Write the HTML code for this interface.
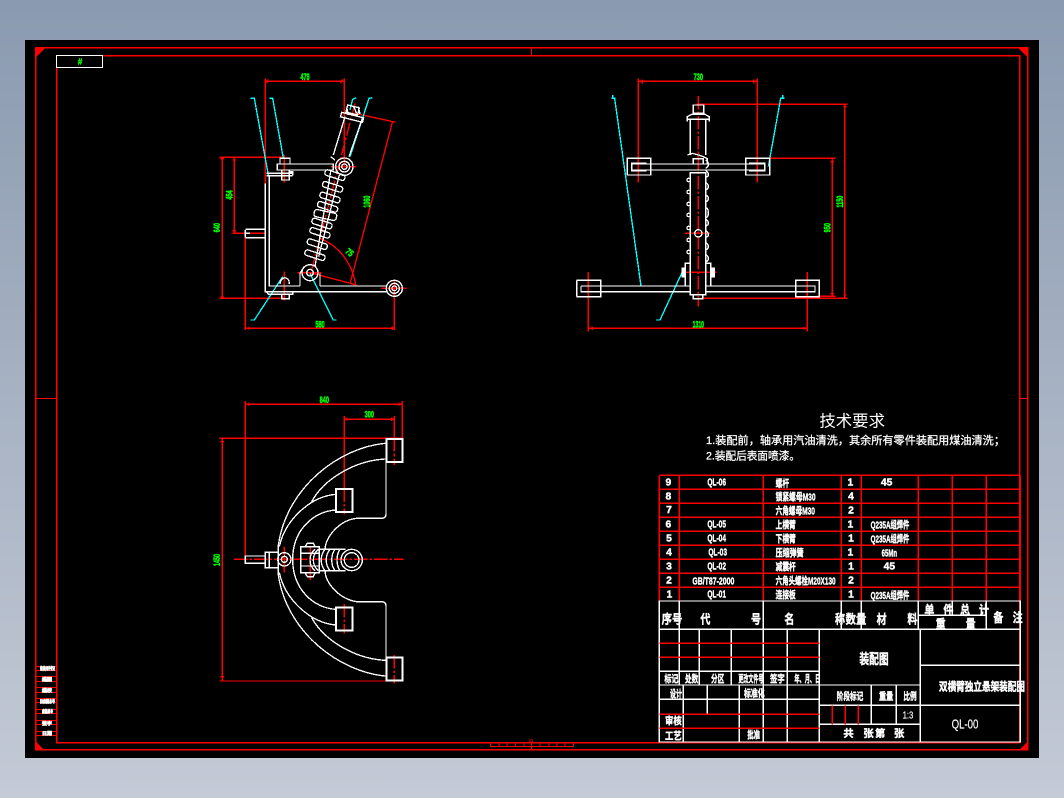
<!DOCTYPE html>
<html><head><meta charset="utf-8"><style>
html,body{margin:0;padding:0;width:1064px;height:798px;overflow:hidden;background:linear-gradient(#8a9ab0,#c4cad6)}
svg{position:absolute;left:0;top:0}
text{font-family:"Liberation Sans","Noto Sans CJK SC",sans-serif}
.r{stroke:#f00;stroke-width:4;fill:none}
.w{stroke:#fff;stroke-width:4;fill:none}
.c{stroke:#0ff;stroke-width:4;fill:none}
.d{stroke:#f00;stroke-width:4;fill:none;stroke-dasharray:40 6 8 6}
.g{fill:#0f0;stroke:#0f0;stroke-width:1.5;font-size:27px;font-weight:bold;text-anchor:middle}
.t{fill:#fff;font-size:31px;font-weight:bold;stroke:#fff;stroke-width:1.2}
.m{text-anchor:middle}
</style></head><body>
<svg width="1064" height="798" viewBox="0 0 1064 798" shape-rendering="crispEdges">
<rect x="25" y="40" width="1014" height="718" fill="#000"/>
<g fill="none" stroke="#f00" stroke-width="1">
<rect x="35.5" y="47.5" width="992" height="702" stroke-width="1.5"/>
<rect x="56.5" y="55.5" width="963" height="687" stroke-width="1.5"/>
<path d="M531.5 48V55M35 398.5H56M1020 398.5H1028M531.5 742V750"/>
<path d="M490.5 742.5V746.5H573.5V742.5M499 743V746M507 743V746M515.5 743V746M524 743V746M540 743V746M549 743V746M557 743V746M565 743V746"/>
<path d="M35 666.5H56M35 670.5H56M35 676.5H56M35 681.5H56M35 687.5H56M35 692.5H56M35 698.5H56M35 702.5H56M35 709.5H56M35 713.5H56M35 720.5H56M35 724.5H56M35 731.5H56M35 735.5H56"/>
</g>
<path d="M35 47H46L35 58ZM1028 48H1018L1028 58ZM35 741V750H44ZM1028 741V750H1019Z" fill="#f00"/>
<rect x="56.5" y="55.5" width="46" height="12" fill="#000" stroke="#fff"/>
<text x="80" y="64.5" font-size="8" font-weight="bold" fill="#0f0" stroke="#0f0" stroke-width=".4" text-anchor="middle">#</text>
<text x="531" y="743" font-size="5" fill="#f00" text-anchor="middle">中</text>
<g fill="#fff" stroke="#fff" stroke-width=".6" font-size="4.5" font-weight="bold">
<text x="40" y="670" textLength="15" lengthAdjust="spacingAndGlyphs">借(通)用件登记</text>
<text x="42" y="681" textLength="10" lengthAdjust="spacingAndGlyphs">描图</text>
<text x="42" y="692" textLength="10" lengthAdjust="spacingAndGlyphs">描校</text>
<text x="40" y="703" textLength="15" lengthAdjust="spacingAndGlyphs">旧底图总号</text>
<text x="42" y="713" textLength="11" lengthAdjust="spacingAndGlyphs">底图总号</text>
<text x="42" y="725" textLength="10" lengthAdjust="spacingAndGlyphs">签字</text>
<text x="42" y="735" textLength="10" lengthAdjust="spacingAndGlyphs">日期</text>
</g>

<!-- LEFT VIEW -->
<g transform="translate(200,60) scale(.33333)">
<path class="r" d="M196 55V370M433 55V320M196 64H433M205 58L200 70M427 58L422 70M58 292H250M58 715H255M67 292V715M62 296H72M62 711H72M103 292V520M98 300H108M98 512H108M97 520H200M136 510V810M583 660V810M136 805H583M147 800V810M577 800V810M253 285V368M253 635V722M393 320H468M292 638H365M545 685H620M465 160L587 187M577 187L450 672M330 638L470 675"/>
<path class="d" d="M465 130L330 650"/>
<path class="d" d="M136 520H200"/>
<path class="r" d="M360 535C410 555 455 600 468 678"/>
<text class="g" x="315" y="60" textLength="28" lengthAdjust="spacingAndGlyphs">479</text>
<text class="g" transform="translate(60,503) rotate(-90)" textLength="28" lengthAdjust="spacingAndGlyphs">640</text>
<text class="g" transform="translate(98,405) rotate(-90)" textLength="28" lengthAdjust="spacingAndGlyphs">454</text>
<text class="g" x="360" y="802" textLength="28" lengthAdjust="spacingAndGlyphs">580</text>
<text class="g" transform="translate(510,425) rotate(-90)" textLength="36" lengthAdjust="spacingAndGlyphs">1060</text>
<text class="g" transform="translate(448,578) rotate(40)" y="8" textLength="22" lengthAdjust="spacingAndGlyphs">75</text>
<path class="c" d="M152 115H163L205 345M208 115H218L250 295M468 113L458 118L450 150M517 113L507 115L450 290M152 780H163L248 650M410 780H400L330 640"/>
<g class="w">
<path d="M196 370V695H560M208 347V678H300M360 678H560M200 340H278M200 347H278M232 312H400V330H232ZM136 508H196M136 533H196M136 520H150M136 510V533M300 678V640L312 620M360 678V640"/>
<path d="M240 295H270V312H240ZM245 330V360H268V330M268 335H278V347M240 672C240 650 268 645 268 672M200 695L205 703H278V695M245 703V716H268V703"/>
<circle cx="583" cy="685" r="7"/><circle cx="583" cy="685" r="15"/><circle cx="583" cy="685" r="24"/>
<circle cx="330" cy="638" r="10"/><circle cx="330" cy="638" r="24"/>
<circle cx="433" cy="320" r="8"/><circle cx="433" cy="320" r="16"/><circle cx="433" cy="320" r="26"/>
<path d="M400 285L435 170M447 290L487 175M392 290L405 300M440 142L445 165M460 138L470 160M475 140L480 162"/>
<rect x="-34" y="-7" width="68" height="14" transform="translate(456,172) rotate(14)"/>
<rect x="-18" y="-11" width="36" height="22" transform="translate(458,150) rotate(14)"/>
<rect x="-31" y="-8" width="62" height="17" rx="7" transform="translate(405,345) rotate(18)"/>
<rect x="-31" y="-8" width="62" height="17" rx="7" transform="translate(398,380) rotate(18)"/>
<rect x="-31" y="-8" width="62" height="17" rx="7" transform="translate(390,412) rotate(18)"/>
<rect x="-31" y="-8" width="62" height="17" rx="7" transform="translate(383,440) rotate(18)"/>
<rect x="-34" y="-11" width="68" height="22" rx="8" transform="translate(376,465) rotate(12)"/>
<rect x="-31" y="-8" width="62" height="17" rx="7" transform="translate(366,490) rotate(18)"/>
<rect x="-31" y="-8" width="62" height="17" rx="7" transform="translate(360,518) rotate(18)"/>
<rect x="-31" y="-8" width="62" height="17" rx="7" transform="translate(352,552) rotate(18)"/>
<rect x="-31" y="-8" width="62" height="17" rx="7" transform="translate(345,585) rotate(18)"/>
<path d="M392 335L345 620M418 345L356 590"/>
</g>
</g>

<!-- RIGHT VIEW -->
<g transform="translate(570,60) scale(.33333)">
<path class="r" d="M205 55V368M562 55V368M205 64H562M217 58V70M551 58V70M380 133H833M395 715H833M824 133V715M820 140H830M820 705H830M585 295H797M740 709H797M787 295V709M782 305H792M782 701H792M55 636V815M712 636V815M55 805H712M67 800V810M702 800V810M345 520H420M333 637H440"/>
<path class="d" d="M385 108V740"/>
<text class="g" x="385" y="60" textLength="28" lengthAdjust="spacingAndGlyphs">730</text>
<text class="g" x="385" y="802" textLength="34" lengthAdjust="spacingAndGlyphs">1310</text>
<text class="g" transform="translate(819,425) rotate(-90)" textLength="36" lengthAdjust="spacingAndGlyphs">1150</text>
<text class="g" transform="translate(782,503) rotate(-90)" textLength="28" lengthAdjust="spacingAndGlyphs">950</text>
<path class="c" d="M124 115H134L213 678M128 105V115M644 115H632L595 320M638 105V115M258 780H270L335 640"/>
<g class="w">
<rect x="370" y="135" width="31" height="25"/>
<path d="M352 185V170L365 163H405L418 170V185M352 178H418M361 175V285M407 175V285M352 285L368 280L395 288L412 296V312M370 310V296H400V310"/>
<rect x="172" y="295" width="70" height="50"/><rect x="527" y="295" width="72" height="50"/>
<path d="M230 310H185V332H230M537 310H584V332H537"/>
<rect x="185" y="312" width="399" height="18"/>
<rect x="361" y="338" width="46" height="366"/>
<path d="M33 678H361M407 678H735V695H407M361 695H33V678M33 678H80M33 695H80M688 678H735M688 695H735"/>
<rect x="21" y="661" width="71" height="49"/><rect x="677" y="661" width="71" height="49"/>
<path d="M20 662V710M748 662V710M346 678V610H361M422 678V610H407M370 704V716H398V704"/>
<circle cx="385" cy="520" r="11"/>
<circle cx="356" cy="360" r="5"/><circle cx="356" cy="396" r="5"/><circle cx="356" cy="432" r="5"/><circle cx="356" cy="465" r="5"/><circle cx="356" cy="504" r="5"/><circle cx="356" cy="540" r="5"/><circle cx="356" cy="576" r="5"/>
<path d="M407 300C418 305 418 320 407 325M407 332C418 337 418 350 407 352M407 368C418 373 418 385 407 390M407 405C418 410 418 422 407 426M407 442C418 447 418 470 407 474M407 478C418 483 418 495 407 498M407 512C418 517 418 530 407 532M407 548C418 553 418 565 407 570M407 584C418 589 418 602 407 606"/>
</g>
<path d="M335 622H347V652H335ZM422 622H435V652H422Z" fill="#fff"/>
</g>

<!-- PLAN VIEW -->
<g transform="translate(200,390) scale(.33333)">
<path class="r" d="M136 33V510M607 33V150M136 43H607M147 38V48M597 38V48M433 78V296M583 78V145M433 88H583M441 83V93M575 83V93M58 145H607M58 873H570M67 145V873M62 155H72M62 860H72M253 470V548M331 470V570"/>
<path class="d" d="M102 508H610"/>
<path class="d" d="M433 296V374M433 642V730M583 145V225M583 795V880"/>
<text class="g" x="373" y="39" textLength="28" lengthAdjust="spacingAndGlyphs">840</text>
<text class="g" x="508" y="82" textLength="28" lengthAdjust="spacingAndGlyphs">300</text>
<text class="g" transform="translate(60,510) rotate(-90)" textLength="36" lengthAdjust="spacingAndGlyphs">1450</text>
<g class="w">
<path d="M556 160C420 172 260 290 235 465V555C260 728 420 846 556 858"/>
<path d="M556 207C460 212 370 270 335 335M556 811C460 806 370 748 335 683"/>
<path d="M407 313C330 320 255 390 238 470M407 705C330 698 255 628 238 548"/>
<path d="M407 360C340 365 278 420 278 508C278 598 340 653 407 658"/>
<path d="M558 217V372Q558 385 545 385H470C420 390 375 440 375 480M375 540C375 580 420 628 470 635H545Q558 635 558 648V802"/>
<rect x="136" y="498" width="60" height="22"/>
<path d="M196 487H235V533H196ZM208 487V533"/>
<circle cx="253" cy="508" r="9"/><circle cx="253" cy="508" r="20"/>
<rect x="302" y="470" width="56" height="78"/>
<path d="M315 470L322 460H340L345 470M315 548L322 560H340L345 548M302 490H358M302 528H358"/>
<path d="M358 478H437M358 542H437"/>
<path d="M345 478C325 495 325 525 345 542M355 478C335 495 335 525 355 542M375 478C360 495 360 525 375 542M390 478C375 495 375 525 390 542M405 478C392 495 392 525 405 542M420 478C408 495 408 525 420 542"/>
<circle cx="455" cy="510" r="22"/><circle cx="455" cy="510" r="32"/>
</g>
<g fill="none" stroke="#fff" stroke-width="6">
<rect x="559" y="147" width="48" height="69"/><rect x="408" y="297" width="49" height="69"/>
<rect x="408" y="653" width="49" height="69"/><rect x="559" y="803" width="48" height="69"/>
</g>
</g>

<!-- NOTES -->
<g transform="translate(700,405) scale(.33333)" shape-rendering="auto">
<text x="358" y="65" font-size="48" fill="#fff" textLength="197" lengthAdjust="spacingAndGlyphs">技术要求</text>
<text x="18" y="117" font-size="33" fill="#fff" stroke="#fff" stroke-width=".8" textLength="897" lengthAdjust="spacingAndGlyphs">1.装配前，轴承用汽油清洗，其余所有零件装配用煤油清洗；</text>
<text x="18" y="163" font-size="33" fill="#fff" stroke="#fff" stroke-width=".8" textLength="282" lengthAdjust="spacingAndGlyphs">2.装配后表面喷漆。</text>
</g>

<!-- PARTS TABLE -->
<g transform="translate(655,470) scale(.33333)">
<path class="r" d="M13 16H1096M13 58H1096M13 100H1096M13 142H1096M13 184H1096M13 226H1096M13 268H1096M13 310H1096M13 352H1096M13 16V394M73 16V394M325 16V394M559 16V394M619 16V394M790 16V394M892 16V394M994 16V394M1096 16V394"/>
<g class="t">
<text class="m" x="40" y="47">9</text><text class="m" x="185" y="47" textLength="56" lengthAdjust="spacingAndGlyphs">QL-06</text><text x="362" y="51" textLength="40" lengthAdjust="spacingAndGlyphs">螺杆</text><text class="m" x="586" y="47">1</text><text class="m" x="695" y="47">45</text>
<text class="m" x="40" y="89">8</text><text x="362" y="91" textLength="120" lengthAdjust="spacingAndGlyphs">锁紧螺母M30</text><text class="m" x="588" y="89">4</text>
<text class="m" x="42" y="129">7</text><text x="362" y="133" textLength="118" lengthAdjust="spacingAndGlyphs">六角螺母M30</text><text class="m" x="588" y="131">2</text>
<text class="m" x="40" y="173">6</text><text class="m" x="185" y="173" textLength="56" lengthAdjust="spacingAndGlyphs">QL-05</text><text x="362" y="175" textLength="60" lengthAdjust="spacingAndGlyphs">上横臂</text><text class="m" x="586" y="173">1</text><text x="647" y="175" textLength="116" lengthAdjust="spacingAndGlyphs">Q235A组焊件</text>
<text class="m" x="42" y="215">5</text><text class="m" x="185" y="215" textLength="56" lengthAdjust="spacingAndGlyphs">QL-04</text><text x="362" y="217" textLength="60" lengthAdjust="spacingAndGlyphs">下横臂</text><text class="m" x="588" y="215">1</text><text x="647" y="217" textLength="116" lengthAdjust="spacingAndGlyphs">Q235A组焊件</text>
<text class="m" x="42" y="257">4</text><text class="m" x="188" y="257" textLength="56" lengthAdjust="spacingAndGlyphs">QL-03</text><text x="362" y="259" textLength="84" lengthAdjust="spacingAndGlyphs">压缩弹簧</text><text class="m" x="586" y="257">1</text><text class="m" x="703" y="259" textLength="46" lengthAdjust="spacingAndGlyphs">65Mn</text>
<text class="m" x="42" y="299">3</text><text class="m" x="185" y="299" textLength="56" lengthAdjust="spacingAndGlyphs">QL-02</text><text x="362" y="301" textLength="60" lengthAdjust="spacingAndGlyphs">减震杆</text><text class="m" x="588" y="299">1</text><text class="m" x="703" y="299">45</text>
<text class="m" x="42" y="341">2</text><text class="m" x="175" y="343" textLength="126" lengthAdjust="spacingAndGlyphs">GB/T87-2000</text><text x="362" y="343" textLength="180" lengthAdjust="spacingAndGlyphs">六角头螺栓M20X130</text><text class="m" x="588" y="341">2</text>
<text class="m" x="43" y="383">1</text><text class="m" x="185" y="383" textLength="56" lengthAdjust="spacingAndGlyphs">QL-01</text><text x="362" y="385" textLength="60" lengthAdjust="spacingAndGlyphs">连接板</text><text class="m" x="588" y="383">1</text><text x="647" y="387" textLength="116" lengthAdjust="spacingAndGlyphs">Q235A组焊件</text>
</g>
</g>

<!-- TITLE BLOCK -->
<g transform="translate(655,600) scale(.33333)">
<path class="w" d="M13 3H1096V426H13ZM73 3V88M325 3V88M559 3V88M619 3V88M790 3V88M892 3V46M994 3V88M790 46H994M13 88H1096M73 88V255M133 88V255M229 88V255M325 88V426M397 88V426M493 88V426M796 88V426M13 214H493M13 255H796M13 298H493M85 255V426M157 255V343M253 255V426M649 255V373M724 255V373M493 316H796M493 373H796M796 196H1096M796 316H1096"/>
<path class="r" d="M13 130H493M13 172H493M13 343H493M13 385H493M532 316V373M571 316V373M610 316V373"/>
<g class="t" style="font-size:38px">
<text x="20" y="70" textLength="62" lengthAdjust="spacingAndGlyphs">序号</text><text x="136" y="70" textLength="30" lengthAdjust="spacingAndGlyphs">代</text><text x="288" y="70" textLength="30" lengthAdjust="spacingAndGlyphs">号</text><text x="388" y="70" textLength="30" lengthAdjust="spacingAndGlyphs">名</text><text x="540" y="70" textLength="30" lengthAdjust="spacingAndGlyphs">称</text><text x="572" y="70" textLength="62" lengthAdjust="spacingAndGlyphs">数量</text><text x="665" y="70" textLength="30" lengthAdjust="spacingAndGlyphs">材</text><text x="757" y="70" textLength="30" lengthAdjust="spacingAndGlyphs">料</text>
<text x="808" y="44" textLength="30" lengthAdjust="spacingAndGlyphs">单</text><text x="865" y="44" textLength="30" lengthAdjust="spacingAndGlyphs">件</text><text x="915" y="44" textLength="30" lengthAdjust="spacingAndGlyphs">总</text><text x="972" y="44" textLength="30" lengthAdjust="spacingAndGlyphs">计</text><text x="842" y="86" textLength="30" lengthAdjust="spacingAndGlyphs">重</text><text x="932" y="86" textLength="30" lengthAdjust="spacingAndGlyphs">量</text><text x="1015" y="66" textLength="30" lengthAdjust="spacingAndGlyphs">备</text><text x="1073" y="66" textLength="30" lengthAdjust="spacingAndGlyphs">注</text>
</g>
<g class="t" style="font-size:42px"><text x="613" y="192" textLength="88" lengthAdjust="spacingAndGlyphs">装配图</text></g>
<g class="t" style="font-size:34px"><text x="852" y="272" textLength="258" lengthAdjust="spacingAndGlyphs">双横臂独立悬架装配图</text>
<text x="890" y="386" style="font-size:40px;font-weight:normal;stroke-width:.6" textLength="80" lengthAdjust="spacingAndGlyphs">QL-00</text></g>
<g class="t">
<text x="28" y="248" textLength="42" lengthAdjust="spacingAndGlyphs">标记</text><text x="90" y="248" textLength="40" lengthAdjust="spacingAndGlyphs">处数</text><text x="168" y="248" textLength="40" lengthAdjust="spacingAndGlyphs">分区</text><text x="250" y="248" textLength="75" lengthAdjust="spacingAndGlyphs">更改文件号</text><text x="345" y="248" textLength="44" lengthAdjust="spacingAndGlyphs">签字</text><text x="418" y="248" textLength="78" lengthAdjust="spacingAndGlyphs">年、月、日</text>
<text x="45" y="292" textLength="36" lengthAdjust="spacingAndGlyphs">设计</text><text x="267" y="291" textLength="62" lengthAdjust="spacingAndGlyphs">标准化</text>
<text x="30" y="373" textLength="50" lengthAdjust="spacingAndGlyphs">审核</text><text x="30" y="418" textLength="50" lengthAdjust="spacingAndGlyphs">工艺</text><text x="277" y="415" textLength="38" lengthAdjust="spacingAndGlyphs">批准</text>
<text x="545" y="300" textLength="80" lengthAdjust="spacingAndGlyphs">阶段标记</text><text x="672" y="300" textLength="43" lengthAdjust="spacingAndGlyphs">重量</text><text x="745" y="300" textLength="40" lengthAdjust="spacingAndGlyphs">比例</text>
<text x="743" y="356" textLength="32" lengthAdjust="spacingAndGlyphs" style="font-weight:normal;stroke-width:.6">1:3</text>
<text x="565" y="411">共</text><text x="625" y="411">张</text><text x="660" y="411">第</text><text x="717" y="411">张</text>
</g>
</g>
</svg>
</body></html>
